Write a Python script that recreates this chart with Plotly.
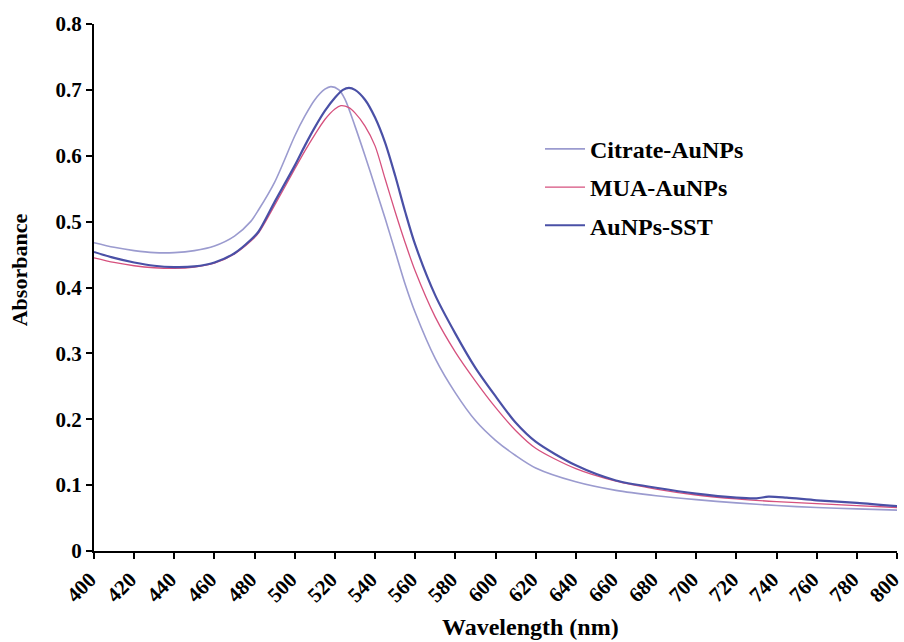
import plotly.graph_objects as go

# Wavelength (nm) and absorbance values
wl_citrate = [400,410,420,430,440,450,460,470,478,482,490,500,505,510,515,518,522,525,530,535,540,545,550,555,560,570,580,590,600,610,620,640,660,680,700,720,740,760,780,800]
abs_citrate = [0.468,0.461,0.456,0.453,0.453,0.456,0.463,0.478,0.500,0.518,0.560,0.630,0.660,0.685,0.701,0.705,0.700,0.686,0.645,0.600,0.553,0.505,0.455,0.405,0.362,0.292,0.240,0.198,0.168,0.145,0.126,0.105,0.092,0.084,0.078,0.073,0.069,0.066,0.064,0.062]

wl_mua = [400,410,420,430,440,450,460,470,478,482,490,500,505,510,515,520,523,527,530,535,540,545,550,555,560,570,580,590,600,610,620,640,660,680,700,720,740,760,780,800]
abs_mua = [0.445,0.438,0.433,0.430,0.429,0.431,0.437,0.451,0.470,0.483,0.525,0.580,0.607,0.632,0.655,0.671,0.676,0.673,0.665,0.645,0.615,0.565,0.515,0.468,0.425,0.355,0.302,0.258,0.218,0.183,0.156,0.125,0.106,0.094,0.085,0.079,0.075,0.072,0.069,0.066]

wl_sst = [400,410,420,430,440,450,460,470,478,482,490,500,505,510,515,520,524,527,530,535,540,545,550,555,560,570,580,590,600,610,620,640,660,680,700,720,730,736,745,760,780,800]
abs_sst = [0.454,0.445,0.438,0.433,0.431,0.432,0.438,0.452,0.472,0.485,0.530,0.585,0.615,0.643,0.668,0.688,0.700,0.703,0.700,0.685,0.658,0.620,0.570,0.515,0.465,0.388,0.330,0.278,0.235,0.195,0.166,0.130,0.107,0.096,0.087,0.081,0.080,0.0825,0.081,0.077,0.073,0.068]

x_ticks = list(range(400, 801, 20))
y_ticks = [0, 0.1, 0.2, 0.3, 0.4, 0.5, 0.6, 0.7, 0.8]
y_ticktext = ["0", "0.1", "0.2", "0.3", "0.4", "0.5", "0.6", "0.7", "0.8"]

FONT = "Liberation Serif"
TICKFONT = dict(family=FONT, size=21, color="black", weight="bold")

fig = go.Figure()
fig.add_trace(go.Scatter(x=wl_citrate, y=abs_citrate, mode="lines", name="Citrate-AuNPs",
                         line=dict(color="#9b9bcf", width=1.6, shape="spline", smoothing=0.8),
                         legendgroup="a"))
fig.add_trace(go.Scatter(x=wl_mua, y=abs_mua, mode="lines", name="MUA-AuNPs",
                         line=dict(color="#d6517e", width=1.3, shape="spline", smoothing=0.8),
                         legendgroup="b"))
fig.add_trace(go.Scatter(x=wl_sst, y=abs_sst, mode="lines", name="AuNPs-SST",
                         line=dict(color="#4a50a6", width=2.2, shape="spline", smoothing=0.8),
                         legendgroup="c"))

fig.update_layout(
    width=904, height=642,
    margin=dict(l=94, r=7, t=23.5, b=91, autoexpand=False),
    paper_bgcolor="white", plot_bgcolor="white",
    font=dict(family=FONT, size=21, color="black"),
    showlegend=True,
    legend=dict(x=(540 - 94) / 803, y=0.805, xanchor="left", yanchor="top",
                font=dict(family=FONT, size=24, color="black", weight="bold"),
                bgcolor="rgba(0,0,0,0)", tracegroupgap=4, itemwidth=40),
    xaxis=dict(range=[400, 800], tickvals=x_ticks, ticktext=[str(v) for v in x_ticks],
               tickangle=-45, showgrid=False, zeroline=False, automargin=False,
               showline=True, linecolor="black", linewidth=2,
               ticks="outside", ticklen=6, tickwidth=1.5, tickcolor="black",
               ticklabelshift=-4, ticklabeloverflow="allow", tickfont=TICKFONT),
    yaxis=dict(range=[0, 0.8], tickvals=y_ticks, ticktext=y_ticktext,
               showgrid=False, zeroline=False, automargin=False,
               showline=True, linecolor="black", linewidth=2,
               ticks="outside", ticklen=6, tickwidth=1.5, tickcolor="black",
               ticklabeloverflow="allow", tickfont=TICKFONT),
)

fig.add_annotation(text="Wavelength (nm)", xref="paper", yref="paper",
                   x=(530 - 94) / 803, y=-(627 - 551) / 527.5, xanchor="center", yanchor="middle",
                   showarrow=False, font=dict(family=FONT, size=24, color="black", weight="bold"))
fig.add_annotation(text="Absorbance", xref="paper", yref="paper",
                   x=-(94 - 19) / 803, y=(551 - 270) / 527.5, xanchor="center", yanchor="middle",
                   textangle=-90, showarrow=False,
                   font=dict(family=FONT, size=22, color="black", weight="bold"))

fig.write_html("out.html")
